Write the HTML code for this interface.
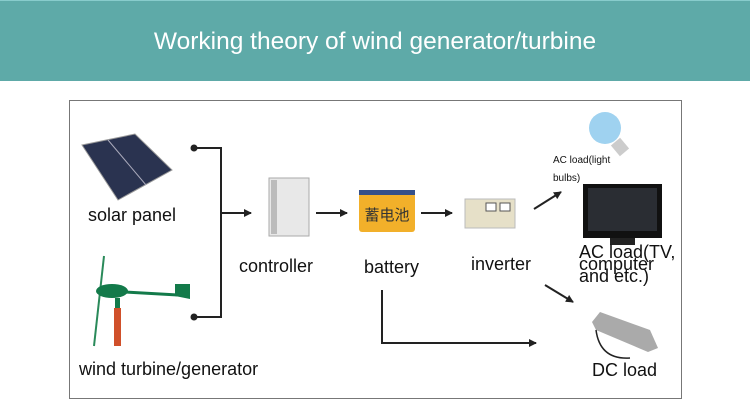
<!DOCTYPE html>
<html><head><meta charset="utf-8"><style>
body{margin:0;width:750px;height:411px;background:#fff;position:relative;overflow:hidden;font-family:"Liberation Sans",sans-serif}
.hdr{position:absolute;left:0;top:0;width:750px;height:80px;background:#5eaaa8;border-top:1px solid #8cc}
.hdr div{position:absolute;width:100%;top:27px;text-align:center;color:#fff;font-size:24.5px}
.box{position:absolute;left:69px;top:100px;width:611px;height:297px;border:1px solid #777}
.t{position:absolute;font-size:18px;color:#111;white-space:nowrap}
</style></head><body>
<div class="hdr"><div>Working theory of wind generator/turbine</div></div>
<div class="box"></div>
<svg width="750" height="411" style="position:absolute;left:0;top:0">
<defs><marker id="a" markerWidth="8" markerHeight="8" refX="7" refY="4" orient="auto" markerUnits="userSpaceOnUse"><path d="M0,0L8,4L0,8z" fill="#222"/></marker></defs>
<g stroke="#222" stroke-width="2" fill="none">
<polyline points="194,148 221,148 221,317 194,317"/>
<line x1="221" y1="213" x2="251" y2="213" marker-end="url(#a)"/>
<line x1="316" y1="213" x2="347" y2="213" marker-end="url(#a)"/>
<line x1="421" y1="213" x2="452" y2="213" marker-end="url(#a)"/>
<line x1="534" y1="209" x2="561" y2="192" marker-end="url(#a)"/>
<line x1="545" y1="285" x2="573" y2="302" marker-end="url(#a)"/>
<polyline points="382,290 382,343 536,343" marker-end="url(#a)"/>
</g>
<circle cx="194" cy="148" r="3.5" fill="#222"/><circle cx="194" cy="317" r="3.5" fill="#222"/>
<polygon points="82,145 135,134 172,170 118,200" fill="#2a3350" stroke="#999"/>
<line x1="108" y1="140" x2="146" y2="185" stroke="#aab"/>
<line x1="104" y1="256" x2="94" y2="346" stroke="#2a8a5a" stroke-width="2"/>
<ellipse cx="112" cy="291" rx="16" ry="7" fill="#137a4a"/>
<line x1="125" y1="292" x2="178" y2="295" stroke="#137a4a" stroke-width="3"/>
<polygon points="175,284 190,284 190,299 175,296" fill="#137a4a"/>
<rect x="115" y="298" width="5" height="12" fill="#137a4a"/>
<rect x="114" y="308" width="7" height="38" fill="#d0502a"/>
<rect x="269" y="178" width="40" height="58" fill="#e8e8e8" stroke="#aaa"/>
<rect x="271" y="180" width="6" height="54" fill="#bbb"/>
<rect x="359" y="193" width="56" height="39" fill="#f2b02a" rx="3"/>
<rect x="359" y="190" width="56" height="5" fill="#35508a"/>
<text x="387" y="220" font-size="15" text-anchor="middle" fill="#333" font-family="Noto Sans CJK SC,sans-serif">蓄电池</text>
<rect x="465" y="199" width="50" height="29" fill="#e6e0c8" stroke="#bbb"/>
<rect x="486" y="203" width="10" height="8" fill="#fff" stroke="#555"/><rect x="500" y="203" width="10" height="8" fill="#fff" stroke="#555"/>
<circle cx="605" cy="128" r="16" fill="#9fd2f0"/>
<rect x="614" y="140" width="12" height="14" fill="#ccc" transform="rotate(-40 620 147)"/>
<rect x="583" y="184" width="79" height="54" fill="#111"/>
<rect x="588" y="188" width="69" height="43" fill="#2a2d33"/>
<rect x="610" y="238" width="25" height="7" fill="#222"/>
<polygon points="592,322 600,312 650,330 658,348 648,352 596,330" fill="#aaa"/>
<path d="M596,330 Q600,360 630,358" stroke="#222" fill="none" stroke-width="1.5"/>
</svg>
<div class="t" style="left:88px;top:205px">solar panel</div>
<div class="t" style="left:79px;top:359px">wind turbine/generator</div>
<div class="t" style="left:239px;top:256px">controller</div>
<div class="t" style="left:364px;top:257px">battery</div>
<div class="t" style="left:471px;top:254px">inverter</div>
<div class="t" style="left:553px;top:152px;font-size:10px;line-height:18px">AC load(light<br>bulbs)</div>
<div class="t" style="left:579px;top:246px;line-height:12px">AC load(TV,<br>computer<br>and etc.)</div>
<div class="t" style="left:592px;top:360px">DC load</div>
</body></html>
